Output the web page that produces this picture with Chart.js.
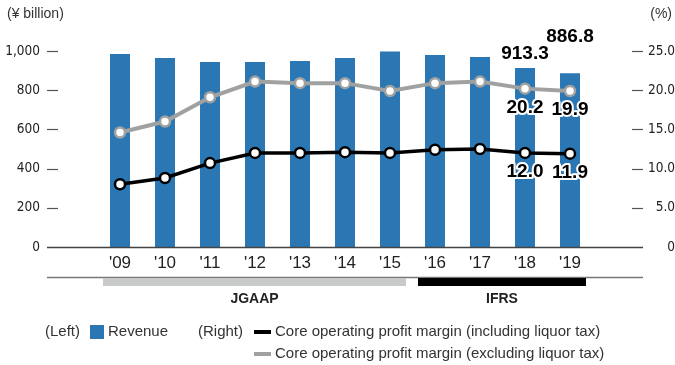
<!DOCTYPE html>
<html>
<head>
<meta charset="utf-8">
<script src="https://cdn.jsdelivr.net/npm/chart.js@4/dist/chart.umd.min.js"></script>
<style>
  html, body { margin: 0; padding: 0; background: #fff; }
  #wrap { width: 675px; height: 365px; position: relative; }
</style>
</head>
<body>
<div id="wrap"><canvas id="revenueChart"></canvas></div>
<script>
// Fiscal years
const years = ["'09", "'10", "'11", "'12", "'13", "'14", "'15", "'16", "'17", "'18", "'19"];
// Revenue (¥ billion) - left axis
const revenue = [985, 964, 944, 944, 949, 964, 998, 980, 969, 913.3, 886.8];
// Core operating profit margin (%) - right axis
const marginIncl = [8.0, 8.8, 10.7, 12.0, 12.0, 12.1, 12.0, 12.4, 12.5, 12.0, 11.9];
const marginExcl = [14.6, 16.0, 19.1, 21.1, 20.9, 20.9, 19.9, 20.9, 21.1, 20.2, 19.9];
// Axis ticks
const revenueTicks = [0, 200, 400, 600, 800, 1000];
const marginTicks = [0, 5, 10, 15, 20, 25];
// Accounting standards (first and last year index)
const standards = [
  { name: 'JGAAP', from: 0, to: 6, color: '#c8c9c9' },
  { name: 'IFRS', from: 7, to: 10, color: '#000000' }
];
// Years whose values are printed
const labelled = [9, 10];

const BLUE = '#2a77b4';
const GREY = '#a0a1a1';
const NARROW = "'DejaVu Sans Condensed', 'Liberation Sans Narrow', sans-serif";
const SANS = "'Liberation Sans', Arial, sans-serif";

function line(ctx, x1, y1, x2, y2) {
  ctx.beginPath();
  ctx.moveTo(x1, y1);
  ctx.lineTo(x2, y2);
  ctx.stroke();
}

function haloText(ctx, text, x, y) {
  ctx.lineJoin = 'round';
  ctx.strokeStyle = '#fff';
  ctx.lineWidth = 4;
  ctx.strokeText(text, x, y);
  ctx.fillStyle = '#000';
  ctx.fillText(text, x, y);
}

// keep the big label gap from pushing the plot area down
function fitY(width) {
  return s => {
    s.width = width;
    s.paddingTop = 0;
    s.paddingBottom = 0;
  };
}

// Axis dashes, baseline, standards bar, value labels and legend
const decor = {
  id: 'decor',
  afterDraw(chart) {
    const { ctx, scales } = chart;
    const xs = scales.x, yL = scales.yRevenue, yR = scales.yMargin;
    const left = 47, right = 643;
    const base = Math.round(yL.getPixelForValue(0)) + 0.5;
    ctx.save();

    // tick dashes
    ctx.strokeStyle = '#555';
    ctx.lineWidth = 1.2;
    revenueTicks.slice(1).forEach(v => {
      const y = Math.round(yL.getPixelForValue(v)) + 0.5;
      line(ctx, left, y, left + 11, y);
    });
    marginTicks.slice(1).forEach(v => {
      const y = Math.round(yR.getPixelForValue(v)) + 0.5;
      line(ctx, right - 11, y, right, y);
    });

    // baseline and lower rule
    ctx.strokeStyle = '#444';
    ctx.lineWidth = 1.3;
    line(ctx, left, base, right, base);
    ctx.strokeStyle = '#777';
    line(ctx, left, 277.5, right, 277.5);

    // accounting standards
    ctx.font = 'bold 14px ' + SANS;
    ctx.textAlign = 'center';
    ctx.textBaseline = 'middle';
    standards.forEach(s => {
      const x1 = xs.getPixelForValue(s.from) - 17;
      const x2 = xs.getPixelForValue(s.to) + 16;
      ctx.fillStyle = s.color;
      ctx.fillRect(x1, 278, x2 - x1, 8);
      ctx.fillStyle = '#222';
      ctx.fillText(s.name, (x1 + x2) / 2, 299);
    });

    // value labels
    ctx.font = 'bold 19px ' + SANS;
    const bars = chart.getDatasetMeta(2).data;
    const incl = chart.getDatasetMeta(0).data;
    const excl = chart.getDatasetMeta(1).data;
    const barLift = { 9: 14, 10: 36 };
    labelled.forEach(i => {
      ctx.fillStyle = '#000';
      ctx.fillText(revenue[i].toFixed(1), bars[i].x, bars[i].y - barLift[i]);
      haloText(ctx, marginExcl[i].toFixed(1), excl[i].x, excl[i].y + 19);
      haloText(ctx, marginIncl[i].toFixed(1), incl[i].x, incl[i].y + 19);
    });

    // axis titles
    ctx.font = '14px ' + SANS;
    ctx.fillStyle = '#333';
    ctx.textAlign = 'left';
    ctx.fillText('(¥ billion)', 7, 14);
    ctx.textAlign = 'right';
    ctx.fillText('(%)', 672, 14);

    // legend
    ctx.font = '15px ' + SANS;
    ctx.textAlign = 'left';
    ctx.fillText('(Left)', 45, 332);
    ctx.fillStyle = BLUE;
    ctx.fillRect(90, 325, 14, 14);
    ctx.fillStyle = '#333';
    ctx.fillText(chart.data.datasets[2].label, 108, 332);
    ctx.fillText('(Right)', 198, 332);
    ctx.lineWidth = 4;
    ctx.strokeStyle = '#000';
    line(ctx, 254, 332, 271, 332);
    ctx.fillText(chart.data.datasets[0].label, 275, 332);
    ctx.strokeStyle = GREY;
    line(ctx, 254, 354, 271, 354);
    ctx.fillText(chart.data.datasets[1].label, 275, 354);

    ctx.restore();
  }
};

new Chart(document.getElementById('revenueChart'), {
  data: {
    labels: years,
    datasets: [
      {
        type: 'line',
        label: 'Core operating profit margin (including liquor tax)',
        data: marginIncl,
        yAxisID: 'yMargin',
        borderColor: '#000',
        borderWidth: 3.5,
        pointRadius: 5,
        pointBorderWidth: 2.5,
        pointBackgroundColor: '#fff',
        pointBorderColor: '#000',
        order: 0
      },
      {
        type: 'line',
        label: 'Core operating profit margin (excluding liquor tax)',
        data: marginExcl,
        yAxisID: 'yMargin',
        borderColor: GREY,
        borderWidth: 4,
        pointRadius: 5,
        pointBorderWidth: 2.5,
        pointBackgroundColor: '#fff',
        pointBorderColor: GREY,
        order: 1
      },
      {
        type: 'bar',
        label: 'Revenue',
        data: revenue,
        yAxisID: 'yRevenue',
        backgroundColor: BLUE,
        barPercentage: 0.444,
        categoryPercentage: 1,
        order: 2
      }
    ]
  },
  plugins: [decor],
  options: {
    responsive: true,
    maintainAspectRatio: false,
    animation: false,
    layout: { padding: { top: 51, left: 0, right: 0, bottom: 0 } },
    plugins: { legend: { display: false }, tooltip: { enabled: false } },
    scales: {
      x: {
        offset: true,
        grid: { display: false, drawTicks: false },
        border: { display: false },
        ticks: { color: '#222', font: { family: SANS, size: 17 }, padding: 6, maxRotation: 0 },
        afterFit: s => { s.height = 118; }
      },
      yRevenue: {
        position: 'left',
        min: 0,
        max: 1000,
        grid: { display: false, drawTicks: false },
        border: { display: false },
        afterBuildTicks: s => { s.ticks = revenueTicks.map(v => ({ value: v })); },
        ticks: {
          color: '#222',
          font: { family: NARROW, size: 13.5 },
          padding: 57.5,
          callback: v => v.toLocaleString('en-US')
        },
        afterFit: fitY(97.5)
      },
      yMargin: {
        position: 'right',
        min: 0,
        max: 25,
        grid: { display: false, drawTicks: false },
        border: { display: false },
        afterBuildTicks: s => { s.ticks = marginTicks.map(v => ({ value: v })); },
        ticks: {
          color: '#222',
          font: { family: NARROW, size: 13.5 },
          padding: 49,
          crossAlign: 'far',
          callback: v => (v === 0 ? '0' : v.toFixed(1))
        },
        afterFit: fitY(82.5)
      }
    }
  }
});
</script>
</body>
</html>
